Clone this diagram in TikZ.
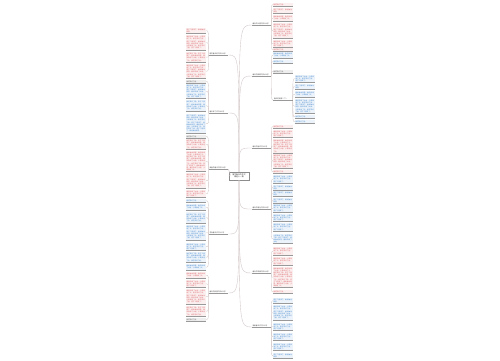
\documentclass[tikz,border=0pt]{standalone}
\usepackage{fontspec}
\newfontfamily\cjk{Noto Sans CJK SC}
\usepackage{xcolor}
\usepackage{tikz}
\usetikzlibrary{calc,positioning}
\XeTeXlinebreaklocale "zh"
\XeTeXlinebreakskip = 0pt plus 0.5pt
\setlength\parindent{0pt}

\definecolor{leafred}{RGB}{218,96,100}
\definecolor{leafblue}{RGB}{64,132,204}
\definecolor{leafdark}{RGB}{90,90,90}
\definecolor{linegray}{RGB}{210,198,198}

\newcommand\leaftext[1]{\foreach \k in {1,...,#1}{\pgfmathtruncatemacro\m{mod(\k+#1,5)}\ifcase\m 春风吹绿了大地，\or 小草探出了头，\or 桃花笑红了脸，\or 燕子飞回来了。\or 柳树抽出新芽，\fi}}

\tikzset{
  root/.style={draw=black!45,fill=white,font=\cjk\fontsize{1.9}{2.4}\selectfont,text=black!80,align=center,inner sep=0.8pt,minimum width=20pt,minimum height=8pt},
  branch/.style={font=\cjk\fontsize{1.7}{2.1}\selectfont,text=black!75,inner sep=0.6pt,text width=18pt,align=left,anchor=south},
  leaf/.style={font=\cjk\fontsize{1.6}{2.2}\selectfont,text=#1,fill=#1!10,inner sep=0.5pt,text width=19pt,align=left,anchor=north},
  conn/.style={draw=linegray,line width=0.35pt},
  uline/.style={draw=black!40,line width=0.5pt}
}

\begin{document}
\begin{tikzpicture}[x=1pt,y=-1pt]
\useasboundingbox[fill=white] (0,0) rectangle (500,360);

\node[root] (root) at (239,176) {描写春天的作文\\精选十一篇};

% left side
\node[branch] (L1) at (218.5,55) {描写春天的作文300字};
\node[branch] (L2) at (218.5,113) {春天来了作文400字};
\node[branch] (L3) at (218.5,169) {美丽的春天作文500字};
\node[branch] (L4) at (218.5,234) {寻找春天作文350字};
\node[branch] (L5) at (218.5,293) {春天的校园作文450字};

% right side
\node[branch] (R1) at (261.5,25) {春天的公园作文300字};
\node[branch] (R2) at (261.5,76) {春天的田野作文400字};
\node[branch] (S1) at (283,100) {春天的田野（二）};
\node[branch] (R3) at (261.5,148) {春天的雨作文300字};
\node[branch] (R4) at (261.5,209) {春天的景色作文600字};
\node[branch] (R5) at (261.5,273) {春天的早晨作文300字};
\node[branch] (R6) at (261.5,327) {我爱春天作文500字};

\draw[conn] (root.north) .. controls (root.north |- L1.south east) .. (L1.south east);
\draw[conn] (root.north) .. controls (root.north |- L2.south east) .. (L2.south east);
\draw[conn] (root.west) .. controls (root.west -| 231,169) .. (L3.south east);
\draw[conn] (root.south) .. controls (root.south |- L4.south east) .. (L4.south east);
\draw[conn] (root.south) .. controls (root.south |- L5.south east) .. (L5.south east);
\draw[conn] (root.north) .. controls (root.north |- R1.south west) .. (R1.south west);
\draw[conn] (root.north) .. controls (root.north |- R2.south west) .. (R2.south west);
\draw[conn] (root.north) .. controls (root.north |- R3.south west) .. (R3.south west);
\draw[conn] (root.south) .. controls (root.south |- R4.south west) .. (R4.south west);
\draw[conn] (root.south) .. controls (root.south |- R5.south west) .. (R5.south west);
\draw[conn] (root.south) .. controls (root.south |- R6.south west) .. (R6.south west);
\draw[conn] (R2.south east) .. controls (R2.south east |- S1.south west) .. (S1.south west);

% leaves, left
\foreach \br/\lst in {L1/{28/33/leafred,35/50/leafred,52/62/leafred,64/78/leafred},
    L2/{80/82/leafdark,84/98/leafblue,100/111/leafblue,114/133/leafblue},
    L3/{135/137/leafdark,139/149/leafred,151/171/leafred,173/188/leafred,190/197/leafred},
    L4/{199/202/leafblue,204/210/leafblue,212/223/leafblue,225/240/leafblue,243/250/leafblue,252/262/leafblue,264/270/leafblue},
    L5/{272/278/leafred,280/287/leafred,289/304/leafred,306/316/leafred,318/320/leafdark}}{
  \foreach \t/\b/\c [count=\i] in \lst {
    \pgfmathtruncatemacro\n{max(1,(\b-\t-1)*0.7)}
    \node[leaf=\c,minimum height=(\b-\t)*1pt] (\br-\i) at (196,\t) {\leaftext{\n}};
    \draw[uline] (\br-\i.south west) -- (\br-\i.south east);
    \draw[conn] (\br.south west) .. controls (\br.south west |- \br-\i.east) .. (\br-\i.east);
  }
}

% leaves, right
\foreach \br/\x/\lst in {R1/283/{3/6/leafred,8/13/leafred,15/21/leafred,23/38/leafred,40/47/leafred,48/50/leafred},
    R2/283/{52/58/leafblue,60/63/leafblue,70/72/leafdark},
    S1/305/{75/82/leafblue,84/89/leafblue,91/97/leafblue,99/113/leafblue,115/118/leafblue,120/123/leafblue},
    R3/283/{125/128/leafred,130/137/leafred,139/152/leafred,154/168/leafred,170/173/leafred},
    R4/283/{175/183/leafblue,185/189/leafblue,191/196/leafblue,198/202/leafblue,204/212/leafblue,214/221/leafblue,223/231/leafblue,234/243/leafblue},
    R5/283/{247/255/leafred,257/265/leafred,267/287/leafred,290/293/leafred},
    R6/283/{298/303/leafblue,305/320/leafblue,323/330/leafblue,333/340/leafblue,343/350/leafblue,353/358/leafblue}}{
  \foreach \t/\b/\c [count=\i] in \lst {
    \pgfmathtruncatemacro\n{max(1,(\b-\t-1)*0.7)}
    \node[leaf=\c,minimum height=(\b-\t)*1pt] (\br-\i) at (\x,\t) {\leaftext{\n}};
    \draw[uline] (\br-\i.south west) -- (\br-\i.south east);
    \draw[conn] (\br.south east) .. controls (\br.south east |- \br-\i.west) .. (\br-\i.west);
  }
}

\foreach \br in {L1,L2,L3,L4,L5,R1,R2,S1,R3,R4,R5,R6}
  \draw[uline] (\br.south west) -- (\br.south east);

\end{tikzpicture}
\end{document}
